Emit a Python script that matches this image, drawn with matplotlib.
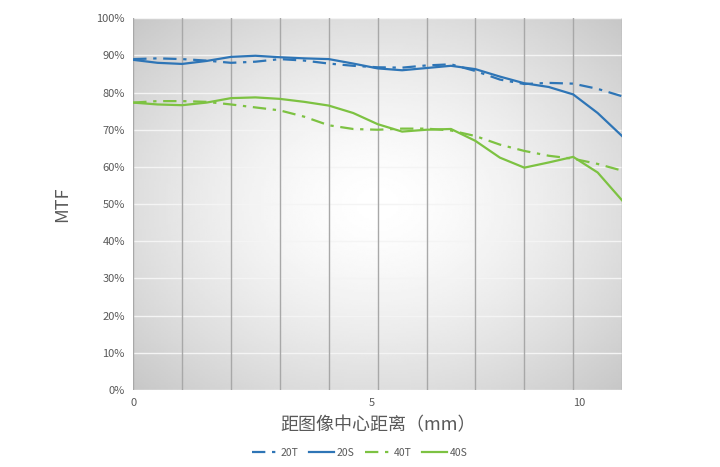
import numpy as np
import matplotlib.pyplot as plt

plt.rcParams['font.family'] = ['Noto Sans CJK SC', 'DejaVu Sans']

# 位置：网格序号（0-10，每格约1.1 mm）
x = np.arange(0, 10.5, 0.5)
mtf_20s = [88.8, 88.0, 87.7, 88.5, 89.6, 89.9, 89.5, 89.2, 89.0, 87.8, 86.5,
           86.0, 86.6, 87.2, 86.3, 84.3, 82.5, 81.5, 79.5, 74.5, 68.3]
mtf_20t = [89.0, 89.2, 89.0, 88.6, 88.0, 88.3, 89.0, 88.6, 87.8, 87.2, 86.8,
           86.7, 87.3, 87.6, 85.8, 83.5, 82.3, 82.6, 82.4, 81.0, 79.0]
mtf_40s = [77.3, 76.8, 76.6, 77.3, 78.5, 78.7, 78.3, 77.5, 76.5, 74.5, 71.5,
           69.5, 70.0, 70.2, 67.0, 62.5, 59.8, 61.2, 62.7, 58.5, 51.0]
mtf_40t = [77.3, 77.7, 77.7, 77.5, 76.8, 76.0, 75.2, 73.5, 71.2, 70.2, 70.0,
           70.3, 70.3, 69.8, 68.3, 66.0, 64.3, 63.0, 62.2, 60.8, 59.0]
tick_pos = [0, 4.88, 9.12]
tick_lab = ["0", "5", "10"]

blue = "#2E75B6"
green = "#7DC242"
txt = "#595959"

fig = plt.figure(figsize=(7.2, 4.67), dpi=100)
ax = fig.add_axes([0.185, 0.165, 0.679, 0.796])

# 背景渐变
gx, gy = np.meshgrid(np.linspace(-1, 1, 200), np.linspace(-1, 1, 200))
r = np.sqrt(gx**2 + gy**2) / np.sqrt(2)
ax.imshow(1 - 0.22 * r**1.5, cmap="gray", vmin=0, vmax=1, extent=[0, 10, 0, 100],
          aspect="auto", zorder=0)

for v in range(0, 101, 10):
    ax.axhline(v, color="#f4f4f4", lw=1, zorder=1)
for g in range(0, 11):
    ax.axvline(g, color="#a8a8a8", lw=1, zorder=1)

ax.plot(x, mtf_20t, color=blue, lw=1.6, ls=(0, (6, 3, 1.5, 3)), label="20T", zorder=3)
ax.plot(x, mtf_20s, color=blue, lw=1.6, label="20S", zorder=3)
ax.plot(x, mtf_40t, color=green, lw=1.6, ls=(0, (6, 3, 1.5, 3)), label="40T", zorder=3)
ax.plot(x, mtf_40s, color=green, lw=1.6, label="40S", zorder=3)

ax.set_xlim(0, 10)
ax.set_ylim(0, 100)
ax.set_yticks(range(0, 101, 10))
ax.set_yticklabels([f"{v}%" for v in range(0, 101, 10)], color=txt, fontsize=8)
ax.set_xticks(tick_pos)
ax.set_xticklabels(tick_lab, color=txt, fontsize=8)
ax.tick_params(length=0, pad=6)
for s in ax.spines.values():
    s.set_visible(False)

ax.set_xlabel("距图像中心距离（mm）", color=txt, fontsize=13, labelpad=6)
ax.set_ylabel("MTF", color=txt, fontsize=13, labelpad=18)
fig.legend(loc="lower center", ncol=4, frameon=False, fontsize=7.5,
           bbox_to_anchor=(0.5, 0.0), labelcolor=txt, handlelength=2.4,
           columnspacing=1.0, handletextpad=0.3)

fig.savefig("out.png", dpi=100)
